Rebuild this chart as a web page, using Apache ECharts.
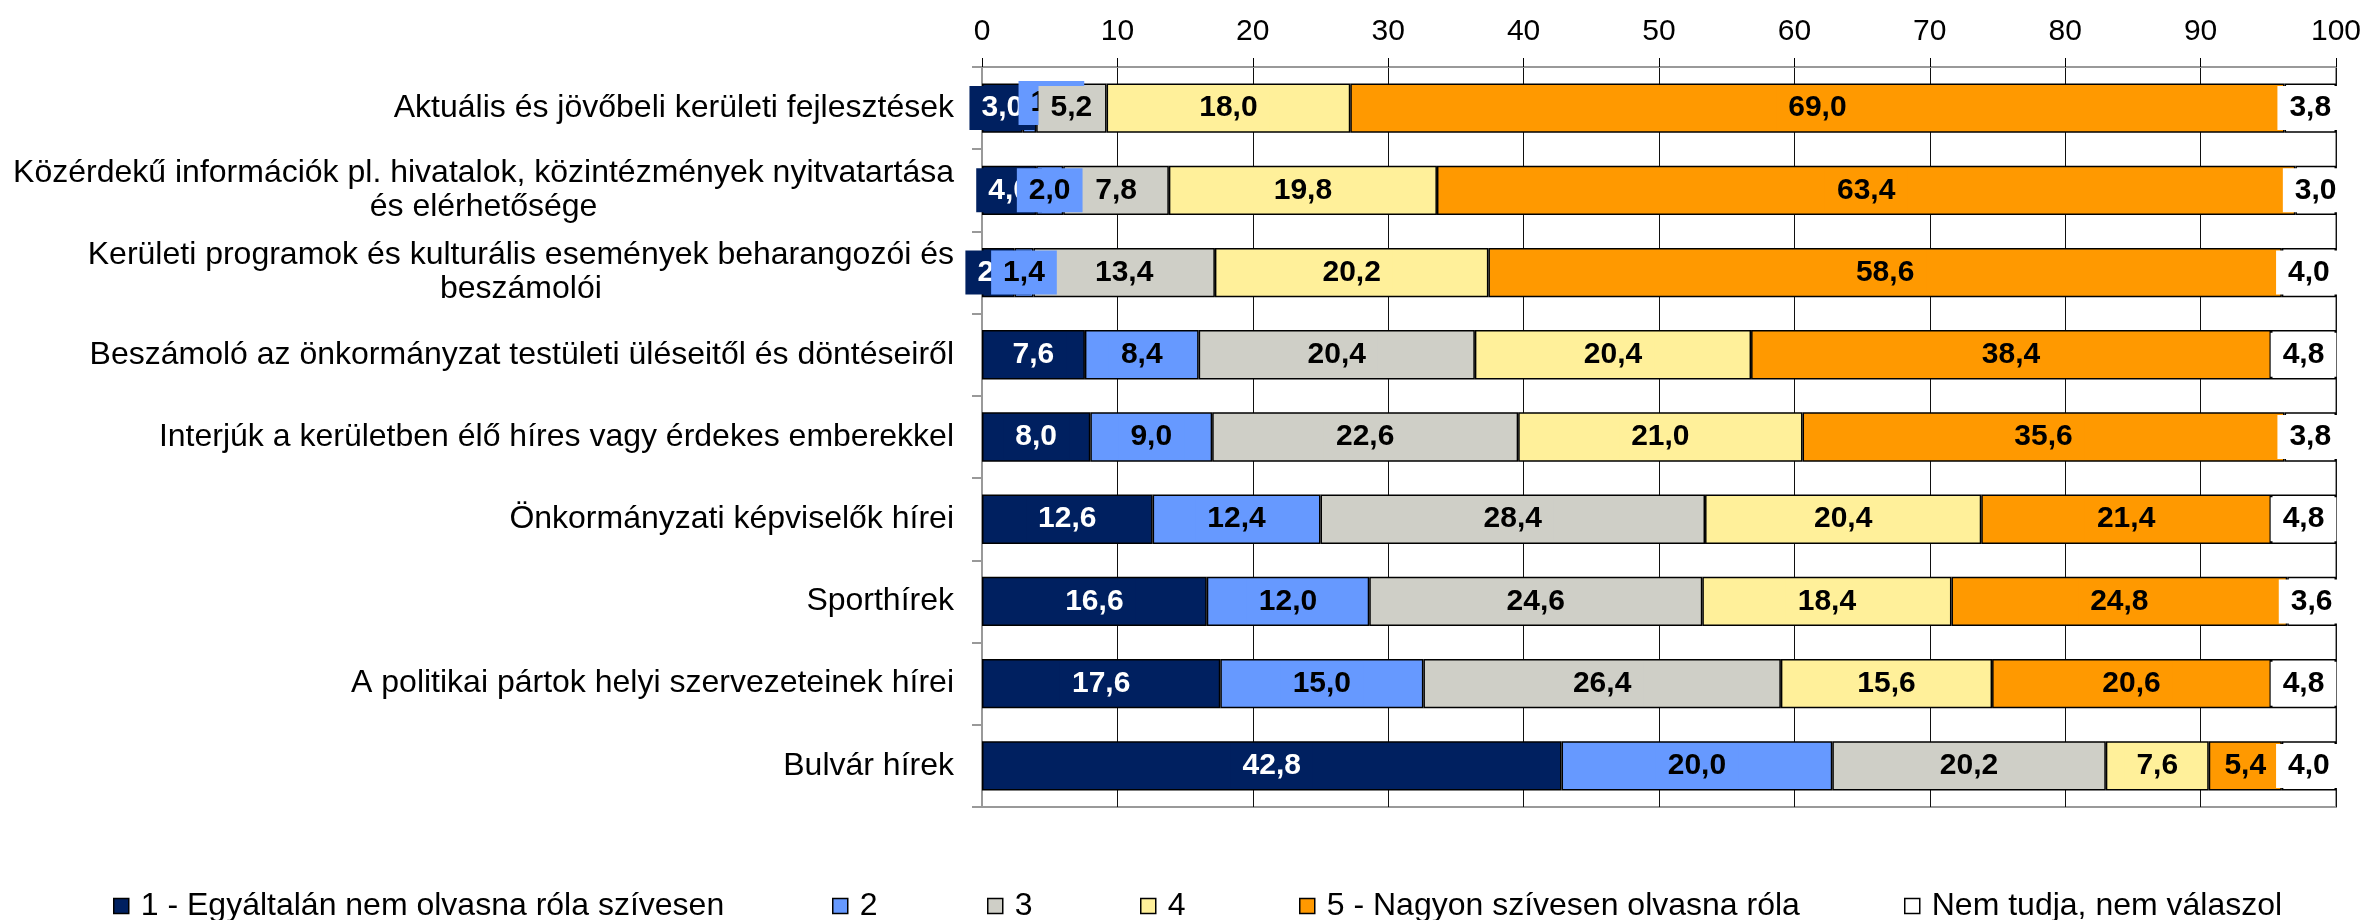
<!DOCTYPE html>
<html>
<head>
<meta charset="utf-8">
<script src="https://cdn.jsdelivr.net/npm/echarts@6/dist/echarts.min.js"></script>
<style>
  html, body { margin: 0; padding: 0; background: #fff; }
  #chart { width: 2366px; height: 920px; }
</style>
</head>
<body>
<div id="chart"></div>
<script>
const categories = [
  'Aktuális és jövőbeli kerületi fejlesztések',
  'Közérdekű információk pl. hivatalok, közintézmények nyitvatartása\nés elérhetősége',
  'Kerületi programok és kulturális események beharangozói és\nbeszámolói',
  'Beszámoló az önkormányzat testületi üléseitől és döntéseiről',
  'Interjúk a kerületben élő híres vagy érdekes emberekkel',
  'Önkormányzati képviselők hírei',
  'Sporthírek',
  'A politikai pártok helyi szervezeteinek hírei',
  'Bulvár hírek'
]
const seriesNames = [
  '1 - Egyáltalán nem olvasna róla szívesen',
  '2',
  '3',
  '4',
  '5 - Nagyon szívesen olvasna róla',
  'Nem tudja, nem válaszol'
]
const answer1 = [3.0, 4.0, 2.4, 7.6, 8.0, 12.6, 16.6, 17.6, 42.8]
const answer2 = [1.0, 2.0, 1.4, 8.4, 9.0, 12.4, 12.0, 15.0, 20.0]
const answer3 = [5.2, 7.8, 13.4, 20.4, 22.6, 28.4, 24.6, 26.4, 20.2]
const answer4 = [18.0, 19.8, 20.2, 20.4, 21.0, 20.4, 18.4, 15.6, 7.6]
const answer5 = [69.0, 63.4, 58.6, 38.4, 35.6, 21.4, 24.8, 20.6, 5.4]
const noAnswer = [3.8, 3.0, 4.0, 4.8, 3.8, 4.8, 3.6, 4.8, 4.0]

const colors = ['#002060', '#6699ff', '#cfcfc7', '#fff09a', '#ff9900', '#ffffff']
const labelColors = ['#fff', '#000', '#000', '#000', '#000', '#000']
const legendLeft = [113, 832, 987, 1140, 1299, 1904]
const font = '"Liberation Sans", Arial, sans-serif'

const chart = echarts.init(document.getElementById('chart'))

const allValues = [answer1, answer2, answer3, answer4, answer5, noAnswer]

const series = allValues.map((values, i) => ({
  name: seriesNames[i],
  type: 'bar',
  stack: 'total',
  barCategoryGap: '40%',
  data: values.map((v, j) => {
    // the small "2" label in the first row is shifted in the original
    if (i === 1 && j === 0) return { value: v, label: { offset: [22, -5] } }
    return v
  }),
  itemStyle: {
    color: colors[i],
    borderColor: '#000',
    borderWidth: 1.5
  },
  label: {
    show: true,
    position: 'inside',
    color: labelColors[i],
    fontFamily: font,
    fontSize: 30,
    fontWeight: 'bold',
    lineHeight: 34,
    backgroundColor: colors[i],
    padding: [5, 12],
    formatter: (p) => p.value.toFixed(1).replace('.', ',')
  }
}))

const legends = seriesNames.map((name, i) => ({
  data: [name],
  left: legendLeft[i],
  top: 889,
  padding: 0,
  icon: 'rect',
  itemWidth: 15,
  itemHeight: 15,
  selectedMode: false,
  itemStyle: { borderColor: '#000', borderWidth: 1.5 },
  textStyle: {
    fontFamily: font,
    fontSize: 32,
    color: '#000',
    lineHeight: 34,
    padding: [0, 0, 0, 7]
  }
}))

const option = {
  animation: false,
  backgroundColor: '#fff',
  grid: {
    left: 982,
    right: 30,
    top: 67,
    bottom: 113,
    show: true,
    borderColor: '#999',
    borderWidth: 2,
    outerBoundsMode: 'none'
  },
  legend: legends,
  xAxis: {
    type: 'value',
    position: 'top',
    min: 0,
    max: 100,
    interval: 10,
    axisLine: { show: true, lineStyle: { color: '#999', width: 2 } },
    axisTick: { show: true, length: 9, lineStyle: { color: '#000', width: 1 } },
    axisLabel: { fontFamily: font, fontSize: 30, color: '#000', margin: 20 },
    splitLine: { show: true, lineStyle: { color: '#111', width: 1 } }
  },
  yAxis: {
    type: 'category',
    inverse: true,
    data: categories,
    axisLine: { show: true, lineStyle: { color: '#999', width: 2 } },
    axisTick: { show: true, length: 10, lineStyle: { color: '#999', width: 2 } },
    axisLabel: {
      margin: 28,
      formatter: (val) => val.split('\n').map(s => '{c|' + s + '}').join('\n'),
      rich: {
        c: {
          fontFamily: font,
          fontSize: 32,
          color: '#000',
          align: 'center',
          lineHeight: 34
        }
      }
    }
  },
  series: series
}

chart.setOption(option)
</script>
</body>
</html>
